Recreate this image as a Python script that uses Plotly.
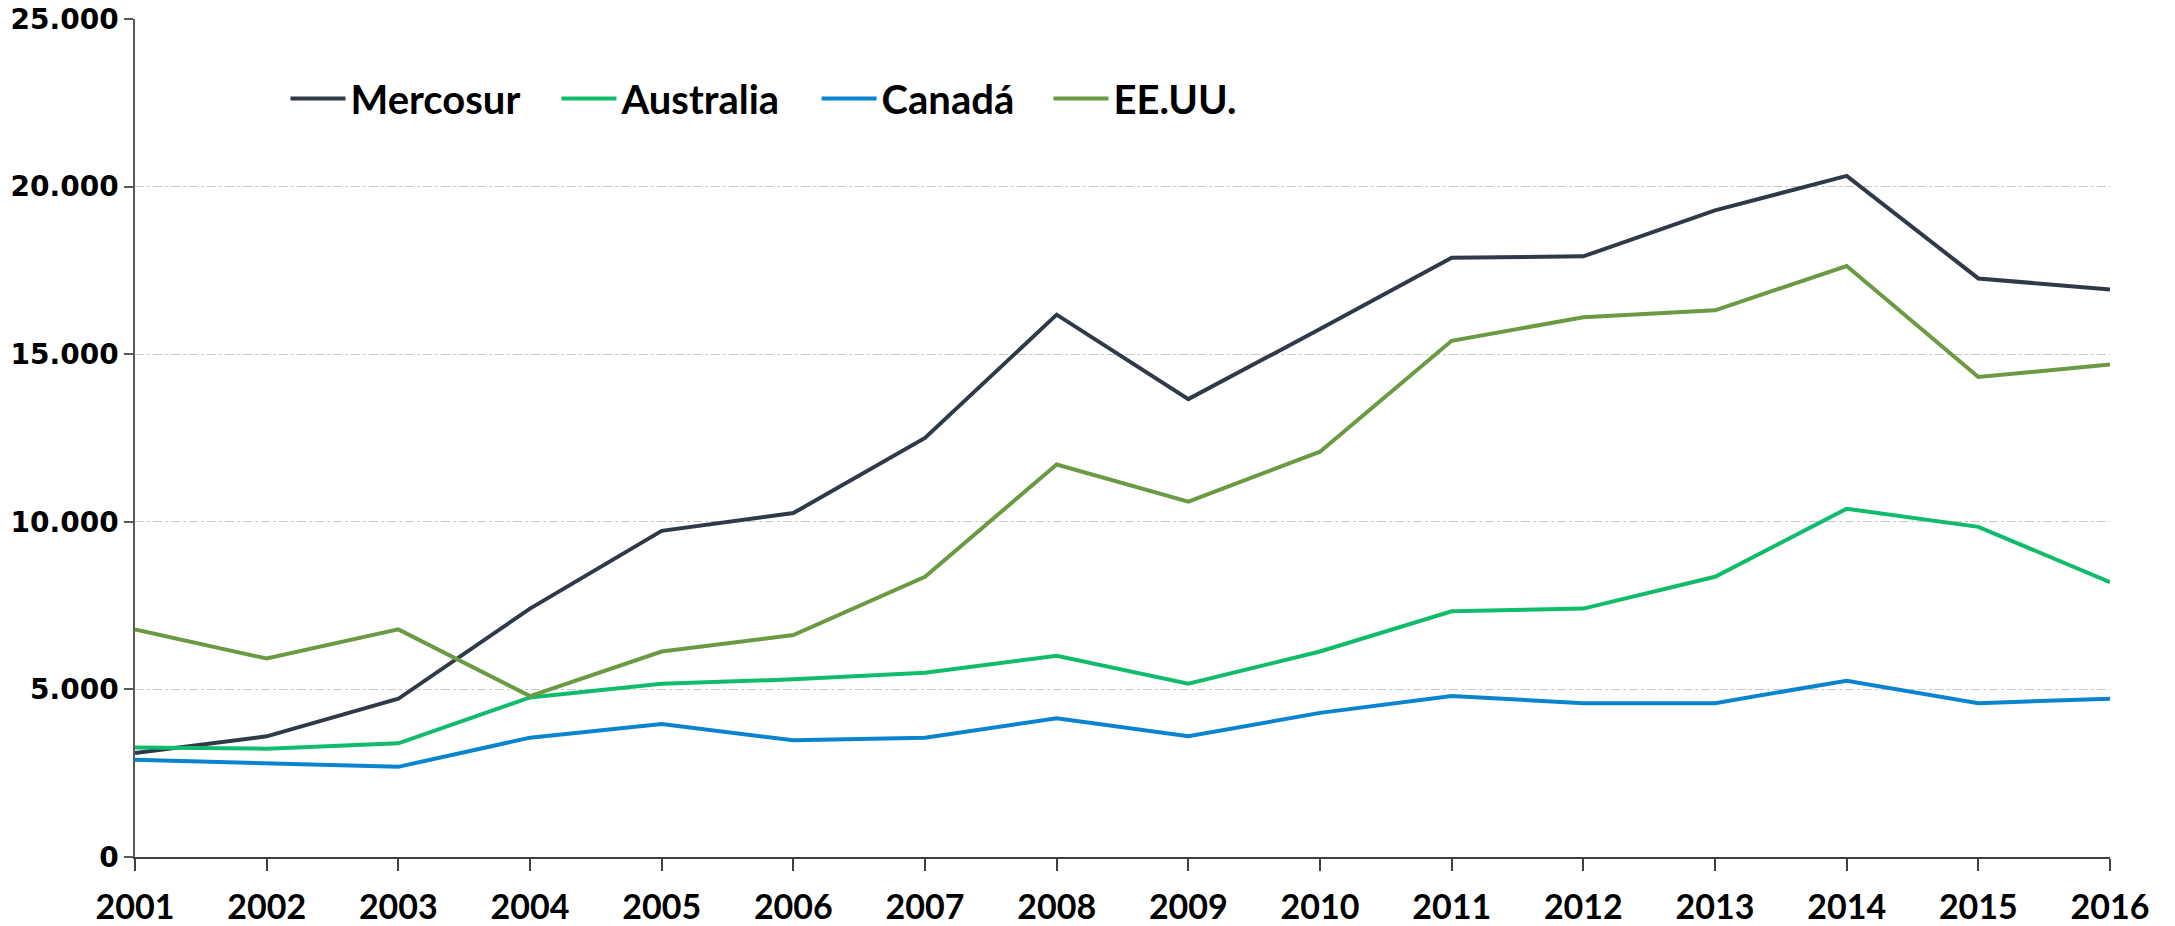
import plotly.graph_objects as go

years = list(range(2001, 2017))
mercosur = [3.10, 3.60, 4.72, 7.41, 9.73, 10.26, 12.50, 16.18, 13.66, 15.75, 17.88, 17.92, 19.29, 20.32, 17.26, 16.93]
australia = [3.27, 3.23, 3.39, 4.76, 5.17, 5.30, 5.50, 6.00, 5.17, 6.13, 7.33, 7.41, 8.36, 10.39, 9.85, 8.20]
canada = [2.90, 2.81, 2.69, 3.56, 3.97, 3.48, 3.56, 4.14, 3.60, 4.30, 4.80, 4.59, 4.59, 5.26, 4.59, 4.72]
eeuu = [6.79, 5.92, 6.79, 4.80, 6.13, 6.62, 8.36, 11.71, 10.60, 12.09, 15.40, 16.10, 16.31, 17.63, 14.32, 14.69]

series_names = ["Mercosur", "Australia", "Canadá", "EE.UU."]
series_vals = [mercosur, australia, canada, eeuu]
colors = ["#2E3A47", "#10BC6B", "#0A84CE", "#6A9A42"]
legend_ids = ["legend", "legend2", "legend3", "legend4"]
legend_x = [0.0762, 0.2134, 0.3451, 0.4625]

y_ticks = [0, 5000, 10000, 15000, 20000, 25000]
y_labels = ["0", "5.000", "10.000", "15.000", "20.000", "25.000"]

fig = go.Figure()
for name, vals, col, lg in zip(series_names, series_vals, colors, legend_ids):
    fig.add_trace(go.Scatter(
        x=years, y=[v * 1000 for v in vals], name=name, mode="lines",
        line=dict(color=col, width=4), cliponaxis=False, legend=lg))

legend_style = dict(orientation="h", xanchor="left", y=0.905, yanchor="middle",
                    font=dict(family="Lato", size=40, color="black", weight="bold"),
                    bgcolor="rgba(0,0,0,0)", itemwidth=55)
fig.update_layout(
    width=2175, height=926,
    margin=dict(l=135, r=65, t=19, b=69),
    plot_bgcolor="white", paper_bgcolor="white",
    showlegend=True,
)
for lg, lx in zip(legend_ids, legend_x):
    fig.update_layout({lg: dict(x=lx, **legend_style)})

fig.update_xaxes(
    range=[2001, 2016], tickvals=years, ticktext=[str(y) for y in years],
    showgrid=False, zeroline=False, automargin=False,
    showline=True, linecolor="#404040", linewidth=2,
    ticks="outside", ticklen=12, tickcolor="#404040", tickwidth=1.5,
    tickfont=dict(family="Lato", size=34, color="black", weight="bold"),
    ticklabelstandoff=7, ticklabeloverflow="allow",
)
fig.update_yaxes(
    range=[0, 25000], tickvals=y_ticks, ticktext=y_labels,
    showgrid=True, gridcolor="#C8C8C8", griddash="dashdot", gridwidth=1,
    zeroline=False, automargin=False,
    showline=True, linecolor="#595959", linewidth=1.5,
    ticks="outside", ticklen=9, tickcolor="#595959", tickwidth=1.5,
    tickfont=dict(family="DejaVu Sans", size=28, color="black", weight="bold"),
    ticklabelstandoff=0, ticklabeloverflow="allow",
)

fig.write_html("out.html", config={"displayModeBar": False},
               post_script="document.body.style.margin='0';document.body.style.overflow='hidden';")
